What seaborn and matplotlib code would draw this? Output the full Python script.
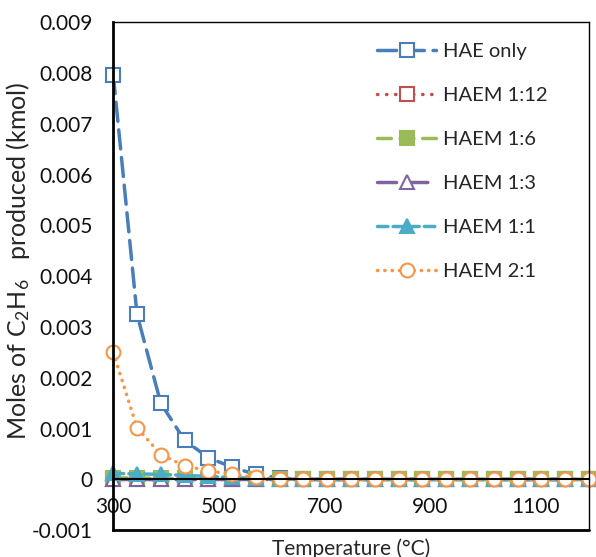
import matplotlib
matplotlib.use("Agg")
import matplotlib.pyplot as plt
import seaborn as sns
import numpy as np

temps = [300, 345, 390, 435, 480, 525, 570, 615, 660, 705, 750, 795, 840, 885, 930, 975, 1020, 1065, 1110, 1155, 1200]
hae_only = [0.00797, 0.00325, 0.00150, 0.00077, 0.00043, 0.00024, 0.00010, 0.00003] + [0.0] * 13
haem_1_12 = [0.0] * 21
haem_1_6 = [0.00003, 0.00003, 0.00002, 0.00002, 0.00001, 0.00001, 0.0] + [0.0] * 14
haem_1_3 = [0.0] * 21
haem_1_1 = [0.00012, 0.00011, 0.00010, 0.00008, 0.00006, 0.00004, 0.00002, 0.00001] + [0.0] * 13
haem_2_1 = [0.00250, 0.00102, 0.00049, 0.00027, 0.00017, 0.00010, 0.00004, 0.00001] + [0.0] * 13

labels = ["HAE only", "HAEM 1:12", "HAEM 1:6", "HAEM 1:3", "HAEM 1:1", "HAEM 2:1"]
series = [hae_only, haem_1_12, haem_1_6, haem_1_3, haem_1_1, haem_2_1]
colors = ["#4A7EBB", "#C0504D", "#9BBB59", "#8064A2", "#4BACC6", "#F79646"]
markers = ["s", "s", "s", "^", "^", "o"]
faces = ["white", "white", "#9BBB59", "white", "#4BACC6", "white"]
styles = [(0, (5.5, 2.5)), (0, (0.1, 2.5)), (0, (4, 2.5)), (0, (5.5, 3.5)), (0, (3, 1.5)), (0, (0.1, 2))]

sns.set_style("white")
plt.rcParams["font.family"] = ["Lato", "DejaVu Sans"]
plt.rcParams["mathtext.fontset"] = "custom"
plt.rcParams["mathtext.rm"] = "Lato"
plt.rcParams["mathtext.it"] = "Lato:italic"

fig, ax = plt.subplots(figsize=(5.96, 5.57), dpi=100)
fig.subplots_adjust(left=0.19, right=0.988, top=0.96, bottom=0.048)

for y, lab, c, m, fc, ls in zip(series, labels, colors, markers, faces, styles):
    sns.lineplot(x=temps, y=y, ax=ax, color=c, marker=m, markerfacecolor=fc,
                 markeredgecolor=c, markeredgewidth=1.5, markersize=10,
                 linewidth=2.5, linestyle=ls, dash_capstyle="round",
                 label=lab, clip_on=False)

ax.set_xlim(300, 1200)
ax.set_ylim(-0.001, 0.009)
ax.set_xticks([300, 500, 700, 900, 1100])
ax.set_yticks(np.arange(-0.001, 0.0091, 0.001))
ax.set_yticklabels(["-0.001", "0", "0.001", "0.002", "0.003", "0.004", "0.005",
                    "0.006", "0.007", "0.008", "0.009"])
ax.tick_params(axis="both", length=0, labelsize=15, colors="#111111")
ax.tick_params(axis="x", pad=12.5)
ax.tick_params(axis="y", pad=15)

ax.spines["bottom"].set_position(("data", 0))
for s in ["left", "bottom", "top", "right"]:
    ax.spines[s].set_color("black")
ax.spines["left"].set_linewidth(2)
ax.spines["bottom"].set_linewidth(1.5)
ax.spines["top"].set_linewidth(1)
ax.spines["right"].set_linewidth(1)
ax.plot([0, 1], [0, 0], transform=ax.transAxes, color="black", linewidth=2, clip_on=False)

ax.set_ylabel("Moles of C$\\mathregular{_2}$H$\\mathregular{_6}$   produced (kmol)", fontsize=18)
ax.set_xlabel("Temperature (°C)", fontsize=15)
ax.xaxis.set_label_coords(0.5, -0.016)
ax.yaxis.set_label_coords(-0.17, 0.531)

leg = ax.legend(loc="upper left", bbox_to_anchor=(0.5546, 0.959), frameon=False,
                fontsize=14.5, labelspacing=1.33, handlelength=2.93, handletextpad=0.35,
                borderpad=0, borderaxespad=0)

fig.savefig("out.png", dpi=100)
